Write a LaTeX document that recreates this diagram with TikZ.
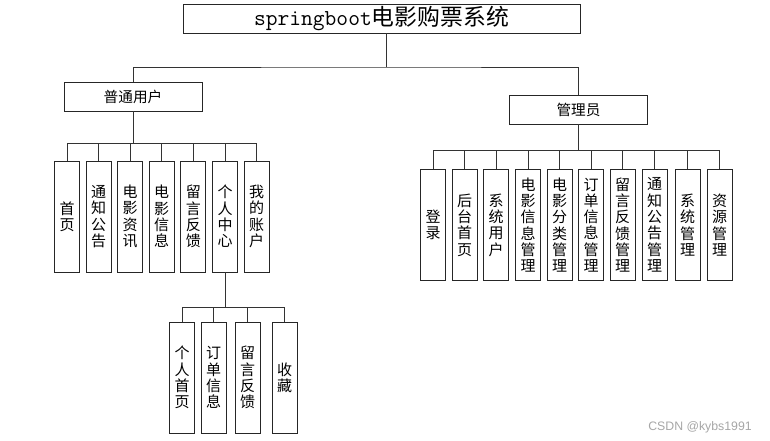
\documentclass[tikz,border=0pt]{standalone}
\usepackage{fontspec}
\setmainfont{Noto Sans CJK SC}
\newfontfamily\markfont{Liberation Sans}
\begin{document}
\begin{tikzpicture}[x=0.03cm, y=-0.03cm, line width=0.8pt,
  every node/.style={draw=black!85, rectangle, inner sep=0pt},
  topbox/.style={minimum width=11.91cm, minimum height=0.87cm, font=\fontsize{19.5}{21}\selectfont},
  midbox/.style={minimum width=4.14cm, minimum height=0.87cm, font=\fontsize{12.5}{14}\selectfont},
  leafbox/.style={minimum width=0.75cm, minimum height=3.33cm, align=center, font=\fontsize{12.8}{13.9}\selectfont}]
  \useasboundingbox (0,0) rectangle (770,441);

  \node[topbox] (sys) at (381.5,18.5) {{\ttfamily springboot}电影购票系统};
  \node[midbox] (user) at (133,96.5) {普通用户};
  \node[midbox] (admin) at (578.5,109.5) {管理员};

  % 普通用户
  \node[leafbox] (u1) at (67,216.5) {首\\页};
  \node[leafbox] (u2) at (98.5,216.5) {通\\知\\公\\告};
  \node[leafbox] (u3) at (130,216.5) {电\\影\\资\\讯};
  \node[leafbox] (u4) at (161.7,216.5) {电\\影\\信\\息};
  \node[leafbox] (u5) at (193.3,216.5) {留\\言\\反\\馈};
  \node[leafbox] (u6) at (225,216.5) {个\\人\\中\\心};
  \node[leafbox] (u7) at (256.7,216.5) {我\\的\\账\\户};

  % 个人中心
  \node[leafbox] (p1) at (182,377.5) {个\\人\\首\\页};
  \node[leafbox] (p2) at (213.5,377.5) {订\\单\\信\\息};
  \node[leafbox] (p3) at (247.5,377.5) {留\\言\\反\\馈};
  \node[leafbox] (p4) at (284.5,377.5) {收\\藏};

  % 管理员
  \node[leafbox] (a1) at (433,225) {登\\录};
  \node[leafbox] (a2) at (464.5,225) {后\\台\\首\\页};
  \node[leafbox] (a3) at (496,225) {系\\统\\用\\户};
  \node[leafbox] (a4) at (528,225) {电\\影\\信\\息\\管\\理};
  \node[leafbox] (a5) at (559.5,225) {电\\影\\分\\类\\管\\理};
  \node[leafbox] (a6) at (591,225) {订\\单\\信\\息\\管\\理};
  \node[leafbox] (a7) at (622.5,225) {留\\言\\反\\馈\\管\\理};
  \node[leafbox] (a8) at (654.5,225) {通\\知\\公\\告\\管\\理};
  \node[leafbox] (a9) at (687.5,225) {系\\统\\管\\理};
  \node[leafbox] (a10) at (719.5,225) {资\\源\\管\\理};

  \node[draw=none, text=black!35, font=\markfont\fontsize{10.5}{12}\selectfont] (mark) at (700,427) {CSDN @kybs1991};

  % connectors
  \coordinate (hub) at (386,67);
  \draw[black!80] (sys.south -| hub) -- (hub);
  \draw[black!80] (user.north) |- (hub) -| (admin.north);
  \draw[black!80] (user.south) -- ++(0,32) coordinate (ubar);
  \draw[black!80] (admin.south) -- ++(0,26) coordinate (abar);
  \draw[black!80] (u6.south) -- ++(0,35) coordinate (pbar);
  \foreach \i in {1,...,7} \draw[black!80] (ubar) -| (u\i.north);
  \foreach \i in {1,...,10} \draw[black!80] (abar) -| (a\i.north);
  \foreach \i in {1,...,4} \draw[black!80] (pbar) -| (p\i.north);
\end{tikzpicture}
\end{document}
